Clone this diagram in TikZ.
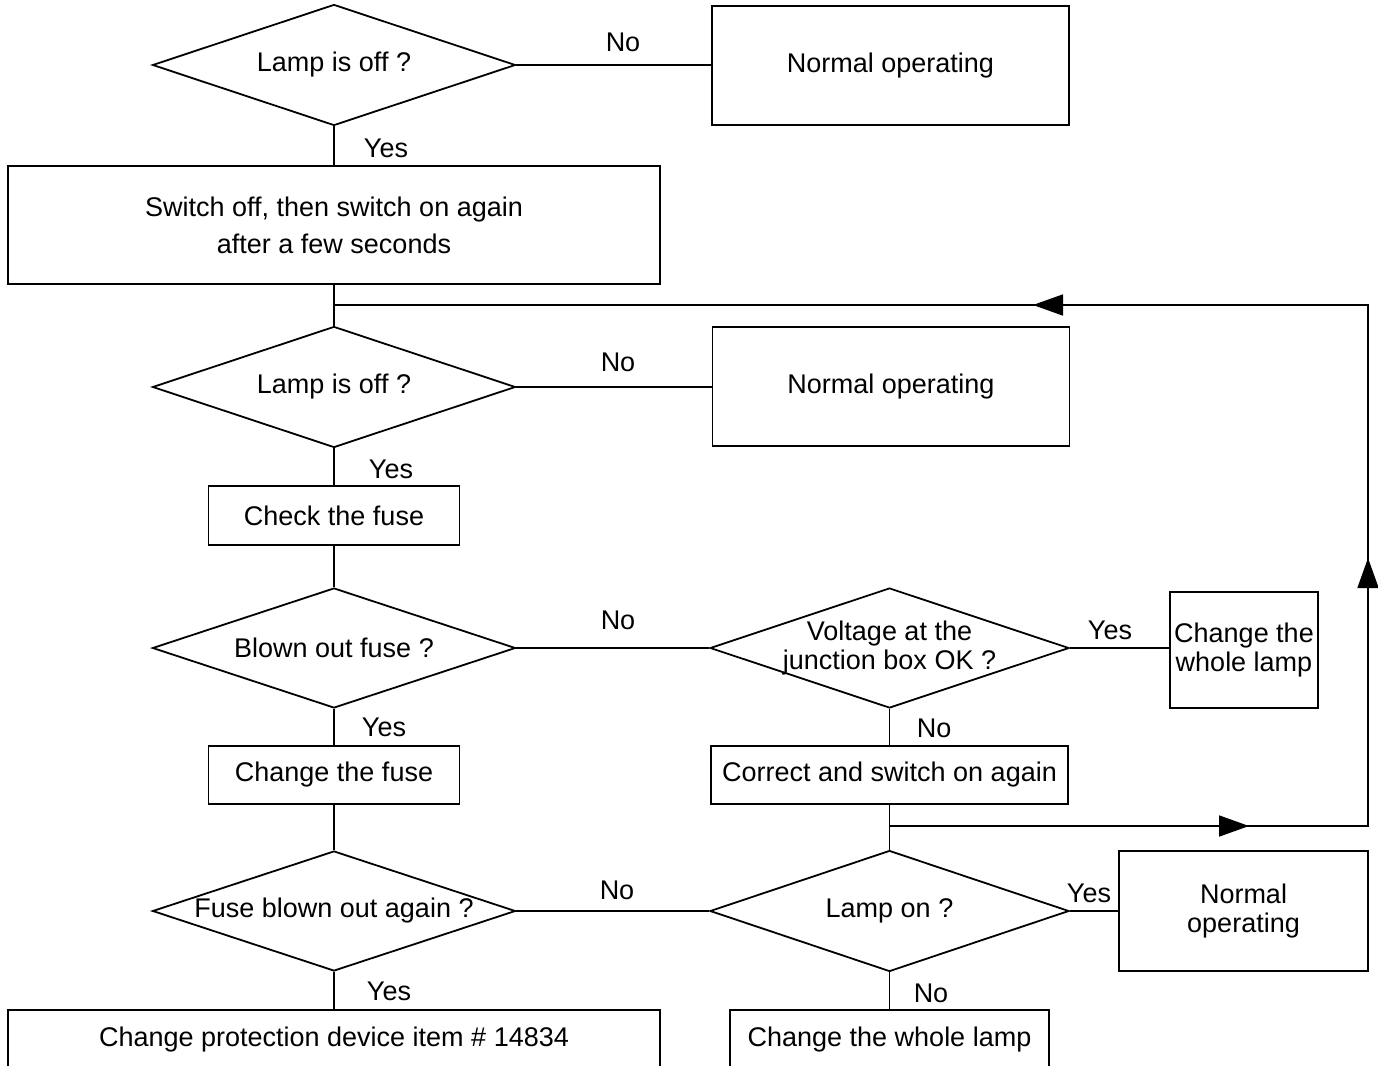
\documentclass[tikz,border=0pt]{standalone}
\usepackage{fontspec}
\setmainfont{Liberation Sans}
\usepackage{tikz}
\usetikzlibrary{shapes.geometric}
\usetikzlibrary{arrows.meta}
\usetikzlibrary{decorations.markings}

\newcommand{\qtext}[1]{\makebox[0pt]{\shortstack{#1}}}

\begin{document}
\begin{tikzpicture}[x=1pt, y=-1pt, font=\fontsize{27}{29}\selectfont,
        box/.style={draw, line width=1.8pt, inner sep=0pt, align=center},
        decision/.style={draw, diamond, line width=1.8pt, inner sep=0pt,
            minimum width=363pt, minimum height=121pt},
        flow/.style={line width=1.8pt},
        tag/.style={inner sep=0pt},
        flowtip/.tip={Triangle[length=30pt, width=21pt]},
        feedback/.style={postaction={decorate}, decoration={markings,
            mark=at position 359.5pt with {\arrow{flowtip}},
            mark=at position 746.5pt with {\arrow{flowtip}},
            mark=at position 1334.5pt with {\arrow{flowtip}}}}]
        \useasboundingbox (0, 0) rectangle (1378, 1065);
        % left column
        \node [decision] (lamp1) at (334, 65) {\qtext{Lamp is off ?}};
        \node [box, minimum width=652pt, minimum height=118pt] (switch) at (334, 225)
            {Switch off, then switch on again\\[8pt]after a few seconds};
        \node [decision] (lamp2) at (334, 387) {\qtext{Lamp is off ?}};
        \node [box, minimum width=251pt, minimum height=59pt] (fuse) at (334, 515.5) {Check the fuse};
        \node [decision, minimum height=120pt] (blown) at (334, 648) {\qtext{Blown out fuse ?}};
        \node [box, minimum width=251pt, minimum height=58pt] (change) at (334, 775) {Change the fuse};
        \node [decision, minimum height=120pt] (again) at (334, 911) {\qtext{Fuse blown out again ?}};
        \node [box, minimum width=652pt, minimum height=59pt] (protect) at (334, 1039.5)
            {Change protection device item \# 14834};
        % right column
        \node [box, minimum width=357pt, minimum height=119pt] (normal1) at (890.5, 65.5) {Normal operating};
        \node [box, minimum width=357pt, minimum height=119pt] (normal2) at (891, 386.5) {Normal operating};
        \node [decision, minimum width=359pt, minimum height=120pt] (voltage) at (889.5, 648)
            {\qtext{Voltage at the\\junction box OK ?}};
        \node [box, minimum width=148pt, minimum height=116pt] (whole1) at (1244, 650) {Change the\\whole lamp};
        \node [box, minimum width=357pt, minimum height=58pt] (correct) at (889.5, 775) {Correct and switch on again};
        \node [decision, minimum width=359pt] (lampon) at (889.5, 911) {\qtext{Lamp on ?}};
        \node [box, minimum width=249pt, minimum height=120pt] (normal3) at (1243.5, 911) {Normal\\operating};
        \node [box, minimum width=319pt, minimum height=59pt] (whole2) at (889.5, 1039.5) {Change the whole lamp};
        % connectors
        \coordinate (j1) at (334, 305);
        \coordinate (j2) at (889.5, 826);
        \coordinate (r1) at (1368, 826);
        \coordinate (r2) at (1368, 305);
        \draw [flow] (lamp1.east) -- (lamp1.east -| normal1.west);
        \draw [flow] (lamp1.south) -- (switch.north);
        \draw [flow] (switch.south) -- (lamp2.north);
        \draw [flow] (lamp2.east) -- (lamp2.east -| normal2.west);
        \draw [flow] (lamp2.south) -- (fuse.north);
        \draw [flow] (fuse.south) -- (blown.north);
        \draw [flow] (blown.east) -- (voltage.west);
        \draw [flow] (voltage.east) -- (voltage.east -| whole1.west);
        \draw [flow] (voltage.south) -- (correct.north);
        \draw [flow] (correct.south) -- (lampon.north);
        \draw [flow, feedback] (j2) -- (r1) -- (r2) -- (j1);
        \draw [flow] (blown.south) -- (change.north);
        \draw [flow] (change.south) -- (again.north);
        \draw [flow] (again.east) -- (again.east -| lampon.west);
        \draw [flow] (lampon.east) -- (lampon.east -| normal3.west);
        \draw [flow] (lampon.south) -- (whole2.north);
        \draw [flow] (again.south) -- (protect.north);
        % branch labels
        \node [tag] (no1) at (623, 42) {No};
        \node [tag] (yes1) at (386, 148) {Yes};
        \node [tag] (no2) at (618, 362) {No};
        \node [tag] (yes2) at (391, 469) {Yes};
        \node [tag] (no3) at (618, 620) {No};
        \node [tag] (yes3) at (1110, 630) {Yes};
        \node [tag] (no4) at (934, 728) {No};
        \node [tag] (yes4) at (384, 727) {Yes};
        \node [tag] (no5) at (617, 890) {No};
        \node [tag] (yes5) at (1089, 893) {Yes};
        \node [tag] (no6) at (931, 993) {No};
        \node [tag] (yes6) at (389, 991) {Yes};
\end{tikzpicture}
\end{document}
